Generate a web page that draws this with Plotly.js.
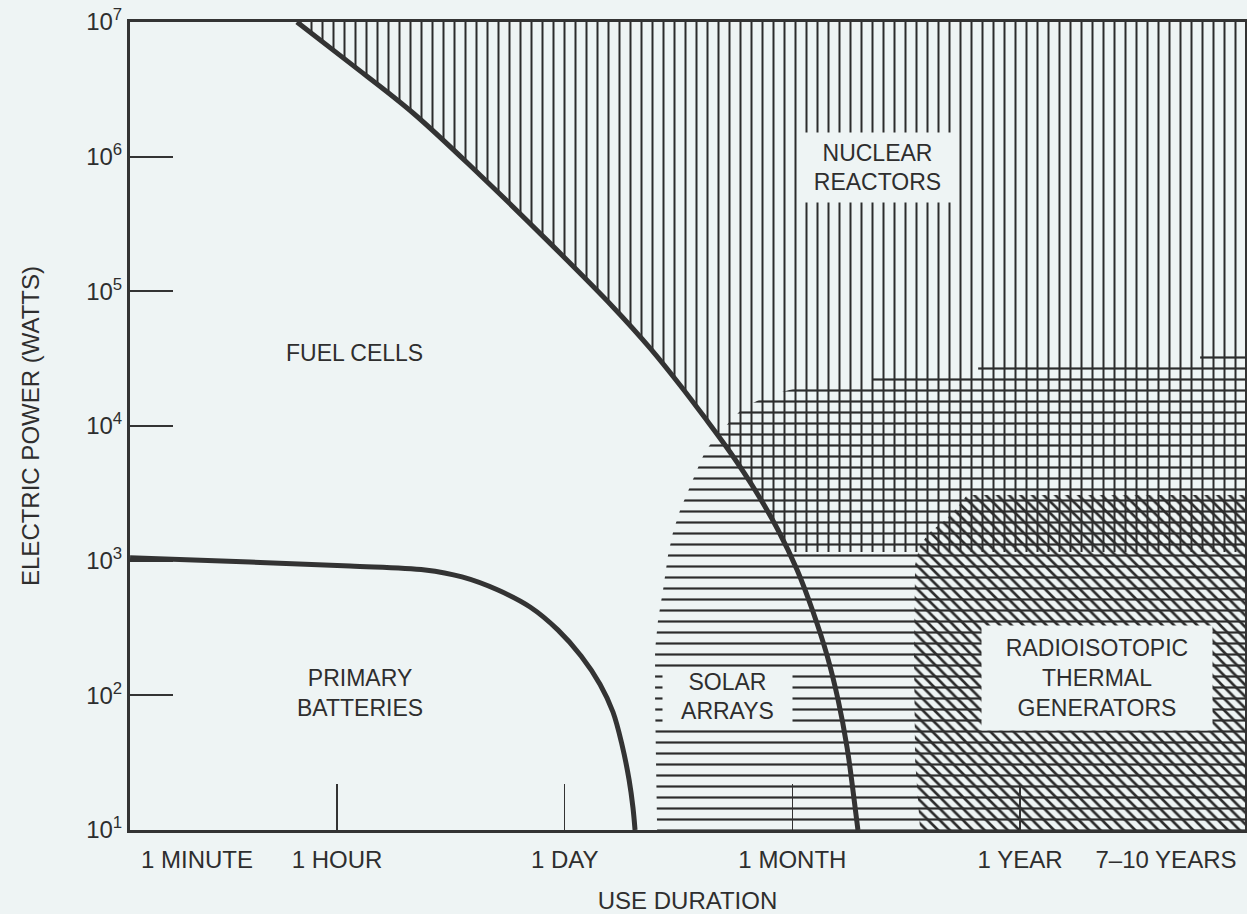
<!DOCTYPE html>
<html>
<head>
<meta charset="utf-8">
<script src="https://cdn.plot.ly/plotly-3.0.1.min.js"></script>
<style>
  html, body { margin: 0; padding: 0; background: #eef4f4; }
  #chart { width: 1247px; height: 914px; }
</style>
</head>
<body>
<div id="chart"></div>
<script>
// ---- Axis definitions (x = qualitative duration scale position) ----
const xLabelPos = [0.385, 1, 2, 3, 4, 4.641];
const xLabels = ['1 MINUTE', '1 HOUR', '1 DAY', '1 MONTH', '1 YEAR', '7\u201310 YEARS'];
const xTickMarks = [1, 2, 3, 4];
const xRange = [0.0908, 4.988];

const yTickVals = [1e1, 1e2, 1e3, 1e4, 1e5, 1e6, 1e7];
const yTickText = ['10<sup>1</sup>', '10<sup>2</sup>', '10<sup>3</sup>', '10<sup>4</sup>',
                   '10<sup>5</sup>', '10<sup>6</sup>', '10<sup>7</sup>'];

// ---- Boundary curves (duration position, watts) ----
const fuelX = [0.824, 1.057, 1.334, 1.628, 1.922, 2.212, 2.375, 2.507, 2.616, 2.726, 2.836, 2.937, 3.021, 3.091, 3.152, 3.201, 3.240, 3.266, 3.288];
const fuelY = [1e7, 4.95e6, 2.11e6, 7.31e5, 2.40e5, 7.66e4, 3.79e4, 2.01e4, 1.15e4, 6.41e3, 3.35e3, 1.69e3, 853, 416, 199, 92.3, 41.3, 19.8, 10];

const battX = [0.091, 0.618, 1.057, 1.387, 1.549, 1.707, 1.848, 1.971, 2.072, 2.155, 2.212, 2.252, 2.283, 2.300, 2.309];
const battY = [1050, 977, 912, 853, 757, 605, 453, 305, 196, 121, 75.2, 42.8, 23.5, 14.6, 10];

// ---- Hatched regions ----
const nuclearX = [0.824, 1.057, 1.334, 1.628, 1.922, 2.212, 2.375, 2.507, 2.616, 2.726, 2.836, 2.937, 2.983, 4.988, 4.988, 0.824];
const nuclearY = [1e7, 4.95e6, 2.11e6, 7.31e5, 2.40e5, 7.66e4, 3.79e4, 2.01e4, 1.15e4, 6.41e3, 3.35e3, 1.69e3, 1160, 1160, 1e7, 1e7];

const solarX = [3.064, 2.889, 2.783, 2.735, 2.682, 2.647, 2.616, 2.594, 2.550, 2.507, 2.476, 2.454, 2.432, 2.410, 2.397, 2.397, 2.401, 2.406,
                4.988, 4.988, 4.791, 4.791, 3.816, 3.816, 3.354, 3.354, 3.064];
const solarY = [2.01e4, 1.67e4, 1.36e4, 1.11e4, 9.02e3, 7.60e3, 6.41e3, 5.31e3, 3.52e3, 2.38e3, 1.63e3, 1.10e3, 605, 362, 217, 92.3, 33.1, 10,
                10, 3.54e4, 3.54e4, 2.94e4, 2.94e4, 2.39e4, 2.39e4, 2.01e4, 2.01e4];

const rtgX = [3.767, 4.988, 4.988, 3.561, 3.539, 3.534, 3.539, 3.561, 3.605, 3.671, 3.723, 3.767];
const rtgY = [3.08e3, 3.08e3, 10, 10, 33.1, 217, 929, 1.31e3, 1.63e3, 2.00e3, 2.46e3, 3.08e3];

// ---- Region labels ----
const labelText = ['FUEL CELLS', 'PRIMARY<br>BATTERIES', 'NUCLEAR<br>REACTORS', 'SOLAR<br>ARRAYS', 'RADIOISOTOPIC<br>THERMAL<br>GENERATORS'];
const labelX = [1.079, 1.101, 3.372, 2.717, 4.338];
const labelY = [3.48e4, 104, 8.24e5, 97.3, 134.6];

const BG = '#eef4f4';
const INK = '#333333';
const HATCH = '#2c2c2c';
const TXT = '#2e2e2e';
const FONT = 'Liberation Sans, Arial, Helvetica, sans-serif';

function hatch(x, y, shape, size, solidity) {
  return {
    x: x, y: y, type: 'scatter', mode: 'lines', fill: 'toself',
    fillcolor: 'rgba(0,0,0,0)',
    line: { width: 0, color: 'rgba(0,0,0,0)' },
    fillpattern: { shape: shape, size: size, solidity: solidity, fgcolor: HATCH, bgcolor: 'rgba(0,0,0,0)', fillmode: 'replace' },
    hoverinfo: 'skip', showlegend: false
  };
}

const traces = [
  hatch(nuclearX, nuclearY, '|', 11, 0.182),
  hatch(solarX, solarY, '-', 11, 0.2),
  hatch(rtgX, rtgY, '\\', 8.2, 0.32),
  { x: fuelX, y: fuelY, type: 'scatter', mode: 'lines', line: { color: INK, width: 5, shape: 'spline', smoothing: 1 }, hoverinfo: 'skip', showlegend: false },
  { x: battX, y: battY, type: 'scatter', mode: 'lines', line: { color: INK, width: 5, shape: 'spline', smoothing: 1 }, hoverinfo: 'skip', showlegend: false }
];

const boxSizes = [null, null, [153, 67], [127, 53], [228, 102]];
const annotations = labelText.map((t, i) => {
  const a = {
    x: labelX[i], y: Math.log10(labelY[i]), xref: 'x', yref: 'y',
    text: t, showarrow: false, align: 'center',
    font: { family: FONT, size: 23, color: TXT }
  };
  if (boxSizes[i]) {
    a.bgcolor = BG;
    a.width = boxSizes[i][0];
    a.height = boxSizes[i][1];
  }
  return a;
});

const layout = {
  width: 1247, height: 914,
  margin: { l: 130, r: 2, t: 22, b: 84 },
  paper_bgcolor: BG, plot_bgcolor: BG,
  font: { family: FONT, color: TXT, size: 24 },
  showlegend: false,
  xaxis: {
    range: xRange, type: 'linear', showgrid: false, zeroline: false,
    showline: true, linecolor: INK, linewidth: 3, mirror: true,
    tickmode: 'array', tickvals: xLabelPos, ticktext: xLabels, ticks: '',
    ticklabelstandoff: 6,
    tickfont: { size: 24, color: TXT },
    minor: { tickmode: 'array', tickvals: xTickMarks, ticks: 'inside', ticklen: 46, tickwidth: 1.5, tickcolor: INK, showgrid: false },
    title: { text: 'USE DURATION', font: { size: 24, color: TXT }, standoff: 22 },
    automargin: false
  },
  yaxis: {
    type: 'log', range: [1, 7], showgrid: false, zeroline: false,
    showline: true, linecolor: INK, linewidth: 3, mirror: true,
    tickmode: 'array', tickvals: yTickVals, ticktext: yTickText,
    ticks: 'inside', ticklen: 43, tickwidth: 2, tickcolor: INK,
    tickfont: { size: 24, color: TXT },
    title: { text: 'ELECTRIC POWER (WATTS)', font: { size: 24, color: TXT }, standoff: 40 },
    automargin: false
  },
  annotations: annotations
};

Plotly.newPlot('chart', traces, layout, { staticPlot: true, displayModeBar: false });
</script>
</body>
</html>
